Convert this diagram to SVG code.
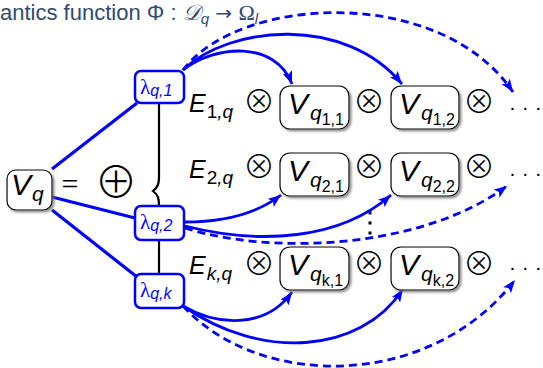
<svg xmlns="http://www.w3.org/2000/svg" width="543" height="368" viewBox="0 0 543 368">
<defs>
<filter id="sh" x="-20%" y="-20%" width="150%" height="150%">
<feDropShadow dx="2" dy="2" stdDeviation="1" flood-color="#777" flood-opacity="0.8"/>
</filter>
<marker id="ah" markerUnits="userSpaceOnUse" markerWidth="14" markerHeight="12" refX="13" refY="5" orient="auto">
<path d="M0,0 L13,5 L0,10 L3,5 z" fill="#0000ff"/>
</marker>
<style>
.box{fill:#fff;stroke:#000;stroke-width:1.2;filter:url(#sh)}
.lbox{fill:#fff;stroke:#0000ff;stroke-width:2.5}
.mv{font-family:"Liberation Sans",Arial,sans-serif;font-style:italic;font-size:30px;fill:#000}
.ev{font-family:"Liberation Sans",Arial,sans-serif;font-style:italic;font-size:25px;fill:#000}
.s1{font-size:21px}
.s2{font-size:16px;font-style:normal}
.es{font-size:19px}
.up{font-style:normal}
.lam{font-family:"Liberation Serif","DejaVu Serif",serif;font-size:21px;fill:#0000ff}
.ls{font-family:"Liberation Sans",Arial,sans-serif;font-style:italic;font-size:16px}
.op{font-family:"Noto Sans CJK JP","DejaVu Sans",sans-serif;font-weight:300;font-size:32px;fill:#000;text-anchor:middle}
.dots{font-family:"Liberation Sans",Arial,sans-serif;font-size:21px;fill:#000}
.bl{stroke:#0000ff;stroke-width:3.2;fill:none}
.cv{stroke:#0000ff;stroke-width:2.8;fill:none;marker-end:url(#ah)}
.dv{stroke:#0000ff;stroke-width:2.8;fill:none;stroke-dasharray:8,5;marker-end:url(#ah)}
</style>
</defs>

<text x="0" y="20" font-family="Liberation Sans,Arial,sans-serif" font-size="22" fill="#2f4b70">antics function Φ : <tspan font-family="DejaVu Serif,serif" font-style="italic">𝒟</tspan><tspan font-style="italic" font-size="15" dy="4">q</tspan><tspan dy="-4" font-family="DejaVu Sans,sans-serif" font-size="20"> → </tspan><tspan font-family="Liberation Serif,serif">Ω</tspan><tspan font-style="italic" font-size="15" dy="4">l</tspan></text>

<g id="connectors">
<path class="bl" d="M52,169 L137,103"/>
<path class="bl" d="M52,197 L135,218"/>
<path class="bl" d="M52,210 L137,277"/>
<path d="M159,103 L159,176 C159,184 158,187 153,191 C158,195 159,198 159,206 L159,274" stroke="#000" stroke-width="2.2" fill="none"/>
<path d="M370,211.5 L370,236" stroke="#000" stroke-width="3" stroke-dasharray="3,7" fill="none"/>
<path class="cv" d="M183,70 C215,45 275,40 292,84"/>
<path class="cv" d="M183,70 C230,25 345,15 402,84"/>
<path class="dv" d="M183,70 C240,-5 440,-15 513,92"/>
<path class="cv" d="M185,222 C220,222 255,215 281,195"/>
<path class="cv" d="M185,226 C260,245 340,240 391,195"/>
<path class="dv" d="M185,228 C270,255 420,250 507,186"/>
<path class="cv" d="M183,306 C215,325 265,330 292,292"/>
<path class="cv" d="M183,306 C260,360 360,355 403,289"/>
<path class="dv" d="M183,306 C260,390 430,390 515,280"/>
</g>

<g id="Vq">
<rect class="box" x="7" y="170" width="45" height="40" rx="9"/>
<text class="mv" x="11" y="195">V<tspan class="s1" dy="6" dx="1">q</tspan></text>
</g>
<text x="70" y="194" font-family="Liberation Serif,serif" font-size="30" text-anchor="middle">=</text>
<text x="116" y="198" font-family="Noto Sans CJK JP,DejaVu Sans,sans-serif" font-weight="300" font-size="43" text-anchor="middle">⊕</text>

<g id="lam1">
<rect class="lbox" x="135" y="71" width="49" height="32" rx="6"/>
<text class="lam" x="140" y="94">λ<tspan class="ls" dy="2">q,1</tspan></text>
</g>
<g id="lam2">
<rect class="lbox" x="135" y="206" width="49" height="34" rx="6"/>
<text class="lam" x="140" y="229">λ<tspan class="ls" dy="2">q,2</tspan></text>
</g>
<g id="lamk">
<rect class="lbox" x="135" y="274" width="49" height="34" rx="6"/>
<text class="lam" x="140" y="297">λ<tspan class="ls" dy="2">q,k</tspan></text>
</g>

<g id="row1">
<text class="ev" x="189" y="112">E<tspan class="es" dy="6" dx="1"><tspan class="up">1</tspan>,q</tspan></text>
<text class="op" x="259" y="113">⊗</text>
<text class="op" x="369" y="113">⊗</text>
<text class="op" x="479" y="113">⊗</text>
<text class="dots" x="509" y="114">· · ·</text>
</g>
<g id="Vq11">
<rect class="box" x="280" y="86" width="69" height="43" rx="10"/>
<text class="mv" x="288" y="114">V<tspan class="s1" dy="6" dx="2">q</tspan><tspan class="s1 s2" dy="5">1,1</tspan></text>
</g>
<g id="Vq12">
<rect class="box" x="391" y="86" width="68" height="43" rx="10"/>
<text class="mv" x="399" y="114">V<tspan class="s1" dy="6" dx="2">q</tspan><tspan class="s1 s2" dy="5">1,2</tspan></text>
</g>

<g id="row2">
<text class="ev" x="189" y="178">E<tspan class="es" dy="6" dx="1"><tspan class="up">2</tspan>,q</tspan></text>
<text class="op" x="259" y="178">⊗</text>
<text class="op" x="369" y="178">⊗</text>
<text class="op" x="479" y="178">⊗</text>
<text class="dots" x="509" y="180">· · ·</text>
</g>
<g id="Vq21">
<rect class="box" x="280" y="153" width="69" height="43" rx="10"/>
<text class="mv" x="288" y="181">V<tspan class="s1" dy="6" dx="2">q</tspan><tspan class="s1 s2" dy="5">2,1</tspan></text>
</g>
<g id="Vq22">
<rect class="box" x="391" y="153" width="68" height="43" rx="10"/>
<text class="mv" x="399" y="181">V<tspan class="s1" dy="6" dx="2">q</tspan><tspan class="s1 s2" dy="5">2,2</tspan></text>
</g>

<g id="rowk">
<text class="ev" x="189" y="274">E<tspan class="es" dy="6" dx="1">k,q</tspan></text>
<text class="op" x="259" y="275">⊗</text>
<text class="op" x="369" y="275">⊗</text>
<text class="op" x="479" y="275">⊗</text>
<text class="dots" x="509" y="274">· · ·</text>
</g>
<g id="Vqk1">
<rect class="box" x="280" y="247" width="69" height="43" rx="10"/>
<text class="mv" x="288" y="275">V<tspan class="s1" dy="6" dx="2">q</tspan><tspan class="s1 s2" dy="5">k,1</tspan></text>
</g>
<g id="Vqk2">
<rect class="box" x="391" y="247" width="68" height="43" rx="10"/>
<text class="mv" x="399" y="275">V<tspan class="s1" dy="6" dx="2">q</tspan><tspan class="s1 s2" dy="5">k,2</tspan></text>
</g>
</svg>
